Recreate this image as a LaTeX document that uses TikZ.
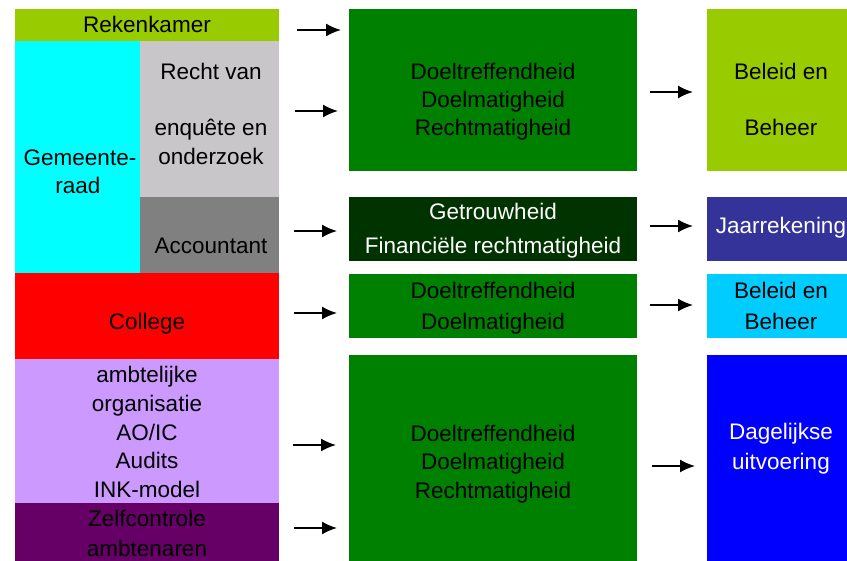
\documentclass[tikz,border=0pt]{standalone}
\usepackage{fontspec}
\setmainfont{Liberation Sans}
\usetikzlibrary{arrows.meta}
\definecolor{yg}{HTML}{99CC00}
\definecolor{cy}{HTML}{00FFFF}
\definecolor{lgr}{HTML}{C8C6C8}
\definecolor{dgr}{HTML}{808080}
\definecolor{rd}{HTML}{FF0000}
\definecolor{lil}{HTML}{CC99FF}
\definecolor{pur}{HTML}{660066}
\definecolor{gr}{HTML}{008000}
\definecolor{dkg}{HTML}{003300}
\definecolor{nav}{HTML}{333399}
\definecolor{sky}{HTML}{00CCFF}
\definecolor{blu}{HTML}{0000FF}
\tikzset{
  box/.style={draw=none, inner sep=0pt, outer sep=0pt, anchor=north west},
  txt/.style={font=\fontsize{22.5}{27}\selectfont, anchor=base, inner sep=0pt, text=black},
  wtxt/.style={txt, text=white},
  arr/.style={-{Latex[length=15pt,width=13pt]}, line width=1.8pt, black}
}
\begin{document}
\begin{tikzpicture}[x=1pt, y=-1pt]
\useasboundingbox[fill=white] (0,0) rectangle (847,561);
% left column
\node[box, fill=yg,  minimum width=264pt, minimum height=32pt]  (rek)   at (15,9)   {};
\node[box, fill=cy,  minimum width=125pt, minimum height=232pt] (gem)   at (15,41)  {};
\node[box, fill=lgr, minimum width=139pt, minimum height=156pt] (recht) at (140,41) {};
\node[box, fill=dgr, minimum width=139pt, minimum height=76pt]  (acc)   at (140,197){};
\node[box, fill=rd,  minimum width=264pt, minimum height=86pt]  (col)   at (15,273) {};
\node[box, fill=lil, minimum width=264pt, minimum height=144pt] (amb)   at (15,359) {};
\node[box, fill=pur, minimum width=264pt, minimum height=58pt]  (zelf)  at (15,503) {};
% middle column
\node[box, fill=gr,  minimum width=288pt, minimum height=162pt] (m1) at (349,9)   {};
\node[box, fill=dkg, minimum width=288pt, minimum height=64pt]  (m2) at (349,197) {};
\node[box, fill=gr,  minimum width=288pt, minimum height=64pt]  (m3) at (349,274) {};
\node[box, fill=gr,  minimum width=288pt, minimum height=206pt] (m4) at (349,355) {};
% right column
\node[box, fill=yg,  minimum width=140pt, minimum height=162pt] (r1) at (707,9)   {};
\node[box, fill=nav, minimum width=140pt, minimum height=64pt]  (r2) at (707,197) {};
\node[box, fill=sky, minimum width=140pt, minimum height=64pt]  (r3) at (707,274) {};
\node[box, fill=blu, minimum width=140pt, minimum height=206pt] (r4) at (707,355) {};
% texts left
\node[txt] (t1) at (147,33) {Rekenkamer};
\node[txt] (t2) at (211,80) {Recht van};
\node[txt] (t3) at (211,136) {enquête en};
\node[txt] (t4) at (211,165) {onderzoek};
\node[txt] (t5) at (80,166) {Gemeente-};
\node[txt] (t6) at (78,194) {raad};
\node[txt] (t7) at (211,254) {Accountant};
\node[txt] (t8) at (147,330) {College};
\node[txt] (t9) at (147,383) {ambtelijke};
\node[txt] (t10) at (147,412) {organisatie};
\node[txt] (t11) at (147,441) {AO/IC};
\node[txt] (t12) at (147,469) {Audits};
\node[txt] (t13) at (147,498) {INK-model};
\node[txt] (t14) at (147,526) {Zelfcontrole};
\node[txt] (t15) at (147,556) {ambtenaren};
% texts middle
\node[txt] (u1) at (493,80)  {Doeltreffendheid};
\node[txt] (u2) at (493,108) {Doelmatigheid};
\node[txt] (u3) at (493,136) {Rechtmatigheid};
\node[wtxt] (u4) at (493,220) {Getrouwheid};
\node[wtxt] (u5) at (493,254) {Financiële rechtmatigheid};
\node[txt] (u6) at (493,299) {Doeltreffendheid};
\node[txt] (u7) at (493,330) {Doelmatigheid};
\node[txt] (u8) at (493,442) {Doeltreffendheid};
\node[txt] (u9) at (493,470) {Doelmatigheid};
\node[txt] (u10) at (493,499) {Rechtmatigheid};
% texts right
\node[txt] (v1) at (781,80)  {Beleid en};
\node[txt] (v2) at (781,136) {Beheer};
\node[wtxt] (v3) at (781,234) {Jaarrekening};
\node[txt] (v4) at (781,299) {Beleid en};
\node[txt] (v5) at (781,330) {Beheer};
\node[wtxt] (v6) at (781,440) {Dagelijkse};
\node[wtxt] (v7) at (781,470) {uitvoering};
% arrow end points
\coordinate (a1s) at (297,30);  \coordinate (a1e) at (341,30);
\coordinate (a2s) at (295,111); \coordinate (a2e) at (338,111);
\coordinate (a3s) at (294,231); \coordinate (a3e) at (337,231);
\coordinate (a4s) at (294,313); \coordinate (a4e) at (337,313);
\coordinate (a5s) at (293,445); \coordinate (a5e) at (336,445);
\coordinate (a6s) at (294,528); \coordinate (a6e) at (337,528);
\coordinate (b1s) at (650,92);  \coordinate (b1e) at (693,92);
\coordinate (b2s) at (650,226); \coordinate (b2e) at (693,226);
\coordinate (b3s) at (650,305); \coordinate (b3e) at (693,305);
\coordinate (b4s) at (652,466); \coordinate (b4e) at (695,466);
\foreach \p in {a1,a2,a3,a4,a5,a6,b1,b2,b3,b4}
  \draw[arr] (\p s) -- (\p e);
\end{tikzpicture}
\end{document}
